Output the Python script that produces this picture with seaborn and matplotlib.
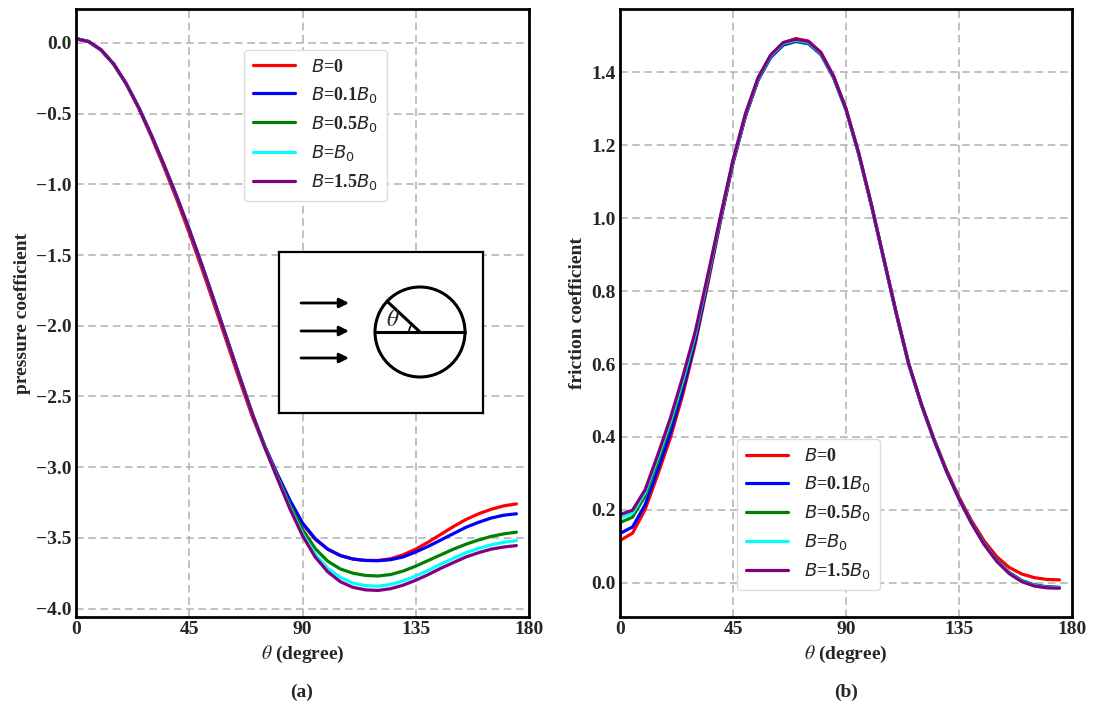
import numpy as np
import pandas as pd
import matplotlib
matplotlib.use("Agg")
import matplotlib.pyplot as plt
from matplotlib.patches import Circle, Arc
from matplotlib.ticker import MultipleLocator, FuncFormatter
import seaborn as sns

# ---------------- data ----------------
theta = [0, 5, 10, 15, 20, 25, 30, 35, 40, 45, 50, 55, 60, 65, 70, 75, 80, 85,
         90, 95, 100, 105, 110, 115, 120, 125, 130, 135, 140, 145, 150, 155, 160,
         165, 170, 175]

labels = [r"$B$=0", r"$B$=0.1$B_0$", r"$B$=0.5$B_0$", r"$B$=$B_0$", r"$B$=1.5$B_0$"]
colors = ["red", "blue", "green", "cyan", "purple"]

# pressure coefficient
cp_b0 = [0.03, 0.01, -0.05, -0.15, -0.29, -0.465, -0.665, -0.88, -1.105, -1.345, -1.595,
         -1.855, -2.12, -2.385, -2.64, -2.86, -3.05, -3.24, -3.40, -3.51, -3.58, -3.625,
         -3.65, -3.66, -3.66, -3.648, -3.62, -3.58, -3.53, -3.475, -3.42, -3.37, -3.33,
         -3.298, -3.274, -3.26]
cp_b01 = [0.03, 0.01, -0.05, -0.15, -0.29, -0.46, -0.655, -0.865, -1.085, -1.32, -1.57,
          -1.83, -2.095, -2.36, -2.62, -2.85, -3.05, -3.235, -3.395, -3.505, -3.58, -3.625,
          -3.65, -3.66, -3.662, -3.655, -3.635, -3.60, -3.56, -3.515, -3.47, -3.425, -3.39,
          -3.36, -3.34, -3.33]
cp_b05 = [0.03, 0.01, -0.05, -0.15, -0.29, -0.46, -0.655, -0.865, -1.085, -1.32, -1.57,
          -1.83, -2.095, -2.36, -2.62, -2.855, -3.065, -3.265, -3.44, -3.575, -3.665, -3.72,
          -3.75, -3.766, -3.77, -3.76, -3.735, -3.70, -3.66, -3.62, -3.58, -3.545, -3.515,
          -3.49, -3.472, -3.46]
cp_b10 = [0.03, 0.01, -0.05, -0.15, -0.29, -0.46, -0.655, -0.865, -1.085, -1.32, -1.57,
          -1.83, -2.095, -2.36, -2.62, -2.86, -3.075, -3.285, -3.47, -3.615, -3.715, -3.78,
          -3.82, -3.838, -3.842, -3.83, -3.805, -3.77, -3.73, -3.685, -3.645, -3.605, -3.575,
          -3.55, -3.532, -3.52]
cp_b15 = [0.03, 0.01, -0.05, -0.15, -0.29, -0.46, -0.655, -0.865, -1.085, -1.32, -1.57,
          -1.83, -2.095, -2.36, -2.62, -2.86, -3.08, -3.295, -3.485, -3.635, -3.74, -3.81,
          -3.85, -3.868, -3.872, -3.86, -3.835, -3.80, -3.76, -3.715, -3.675, -3.635, -3.605,
          -3.58, -3.565, -3.555]

# friction coefficient
cf_b0 = [0.116, 0.136, 0.201, 0.296, 0.396, 0.516, 0.656, 0.821, 0.991, 1.151, 1.281, 1.381,
         1.446, 1.481, 1.493, 1.486, 1.455, 1.39, 1.30, 1.18, 1.04, 0.89, 0.74, 0.60, 0.49,
         0.395, 0.31, 0.235, 0.17, 0.115, 0.072, 0.042, 0.024, 0.014, 0.009, 0.008]
cf_b01 = [0.135, 0.153, 0.214, 0.309, 0.410, 0.528, 0.665, 0.828, 0.995, 1.153, 1.281, 1.379,
          1.441, 1.475, 1.485, 1.479, 1.449, 1.386, 1.297, 1.178, 1.039, 0.889, 0.739, 0.599,
          0.489, 0.393, 0.307, 0.231, 0.165, 0.108, 0.062, 0.028, 0.006, -0.006, -0.011, -0.013]
cf_b05 = [0.165, 0.180, 0.238, 0.332, 0.432, 0.547, 0.677, 0.835, 0.999, 1.156, 1.284, 1.382,
          1.444, 1.478, 1.487, 1.481, 1.451, 1.388, 1.298, 1.179, 1.039, 0.889, 0.739, 0.599,
          0.489, 0.393, 0.307, 0.231, 0.164, 0.107, 0.061, 0.027, 0.005, -0.007, -0.012, -0.013]
cf_b10 = [0.178, 0.191, 0.248, 0.343, 0.442, 0.556, 0.684, 0.840, 1.002, 1.158, 1.286, 1.384,
          1.446, 1.480, 1.489, 1.483, 1.452, 1.389, 1.299, 1.179, 1.039, 0.889, 0.739, 0.599,
          0.489, 0.393, 0.306, 0.230, 0.163, 0.106, 0.060, 0.026, 0.004, -0.008, -0.013, -0.014]
cf_b15 = [0.187, 0.199, 0.255, 0.350, 0.450, 0.565, 0.690, 0.845, 1.005, 1.160, 1.288, 1.386,
          1.448, 1.482, 1.491, 1.485, 1.454, 1.390, 1.300, 1.180, 1.040, 0.890, 0.740, 0.600,
          0.490, 0.393, 0.306, 0.230, 0.163, 0.105, 0.059, 0.025, 0.003, -0.009, -0.014, -0.015]

cp_all = [cp_b0, cp_b01, cp_b05, cp_b10, cp_b15]
cf_all = [cf_b0, cf_b01, cf_b05, cf_b10, cf_b15]

x_ticks = [0, 45, 90, 135, 180]

# ---------------- style ----------------
sns.set_style("white")
plt.rcParams["font.family"] = ["Liberation Serif", "DejaVu Serif"]
plt.rcParams["mathtext.fontset"] = "dejavusans"

W, H = 1094, 706
fig = plt.figure(figsize=(W / 100, H / 100), dpi=100)


def px_rect(x0, y0, x1, y1):
    return [x0 / W, 1 - y1 / H, (x1 - x0) / W, (y1 - y0) / H]


ax1 = fig.add_axes(px_rect(76, 9, 529, 617))
ax2 = fig.add_axes(px_rect(620, 9, 1072, 617))

n = len(theta)
df_cp = pd.DataFrame({"theta": np.tile(theta, len(labels)),
                      "val": np.concatenate(cp_all),
                      "case": np.repeat(labels, n)})
df_cf = pd.DataFrame({"theta": np.tile(theta, len(labels)),
                      "val": np.concatenate(cf_all),
                      "case": np.repeat(labels, n)})
palette = dict(zip(labels, colors))

sns.lineplot(data=df_cp, x="theta", y="val", hue="case", palette=palette,
             hue_order=labels, linewidth=2.3, ax=ax1, legend=True)
sns.lineplot(data=df_cf, x="theta", y="val", hue="case", palette=palette,
             hue_order=labels, linewidth=2.3, ax=ax2, legend=True)

minus_fmt = FuncFormatter(lambda v, pos: f"{v:.1f}".replace("-", "\u2212")
                          if abs(v) > 1e-9 else "0.0")


def style_axis(ax, ylim, ymajor, yminor):
    ax.set_xlim(0, 180)
    ax.set_ylim(*ylim)
    ax.set_xticks(x_ticks)
    ax.xaxis.set_minor_locator(MultipleLocator(9))
    ax.yaxis.set_major_locator(MultipleLocator(ymajor))
    ax.yaxis.set_minor_locator(MultipleLocator(yminor))
    ax.yaxis.set_major_formatter(minus_fmt)
    ax.tick_params(which="both", direction="in", top=False, right=False,
                   labelsize=14, pad=3)
    ax.tick_params(which="major", length=6, width=1.6)
    ax.tick_params(which="minor", length=3.5, width=1.2)
    for sp in ax.spines.values():
        sp.set_linewidth(2.0)
        sp.set_color("black")
    ax.grid(True, which="major", color="#b0b0b0", linestyle=(0, (5, 3)), linewidth=1.1)
    ax.set_axisbelow(True)
    ax.set_xlabel(r"$\theta$ (degree)", fontsize=14, fontweight="bold", labelpad=4,
                  math_fontfamily="stix")


style_axis(ax1, (-4.06, 0.24), 0.5, 0.1)
style_axis(ax2, (-0.094, 1.574), 0.2, 0.05)
ax1.set_ylabel("pressure coefficient", fontsize=14, fontweight="bold", labelpad=4)
ax2.set_ylabel("friction coefficient", fontsize=14, fontweight="bold", labelpad=4)
for ax in (ax1, ax2):
    for lab in ax.get_xticklabels() + ax.get_yticklabels():
        lab.set_fontweight("bold")

leg_kw = dict(fontsize=13, handlelength=2.3, handletextpad=0.9, labelspacing=0.5,
              borderpad=0.5, borderaxespad=0.0, frameon=True, fancybox=True,
              edgecolor="#dddddd", framealpha=1.0)
h1, l1 = ax1.get_legend_handles_labels()
leg1 = ax1.legend(h1, l1, loc="upper left", bbox_to_anchor=(0.371, 0.933), **leg_kw)
h2, l2 = ax2.get_legend_handles_labels()
leg2 = ax2.legend(h2, l2, loc="lower left", bbox_to_anchor=(0.259, 0.044), **leg_kw)
for leg in (leg1, leg2):
    for t in leg.get_texts():
        t.set_fontweight("bold")
    for ln in leg.get_lines():
        ln.set_linewidth(2.3)

fig.text(302 / W, 1 - 692 / H, "(a)", ha="center", va="center", fontsize=14,
         fontweight="bold")
fig.text(846 / W, 1 - 692 / H, "(b)", ha="center", va="center", fontsize=14,
         fontweight="bold")

# ---------------- inset schematic ----------------
axi = fig.add_axes(px_rect(279, 252, 483, 413))
axi.set_xlim(0, 204)
axi.set_ylim(0, 161)
axi.set_xticks([])
axi.set_yticks([])
axi.set_facecolor("white")
for sp in axi.spines.values():
    sp.set_linewidth(1.6)
    sp.set_color("black")
cx, cy, r = 141, 81, 45
axi.add_patch(Circle((cx, cy), r, fill=False, lw=2.2, color="black"))
axi.plot([cx - r, cx + r], [cy, cy], color="black", lw=2.2)
ang = np.deg2rad(137)
axi.plot([cx, cx + r * np.cos(ang)], [cy, cy + r * np.sin(ang)], color="black", lw=2.2)
axi.add_patch(Arc((cx, cy), 22, 22, theta1=137, theta2=180, lw=1.2, color="black"))
axi.text(114, 92, r"$\theta$", fontsize=17, ha="center", va="center",
         math_fontfamily="stix")
for yy in (110, 82, 55):
    axi.annotate("", xy=(70, yy), xytext=(22, yy),
                 arrowprops=dict(arrowstyle="-|>", lw=2.0, color="black",
                                 mutation_scale=14, shrinkA=0, shrinkB=0))

fig.savefig("out.png", dpi=100)
